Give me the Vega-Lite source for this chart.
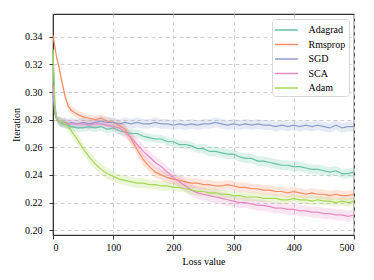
{
"$schema": "https://vega.github.io/schema/vega-lite/v6.json",
"autosize": {"type": "none"},
"width": 301, "height": 221,
"padding": {"left": 53, "top": 14, "right": 20, "bottom": 45},
"background": "white",
"config": {
  "font": "Liberation Serif",
  "view": {"stroke": "#333", "strokeWidth": 1.2},
  "axis": {"labelFont": "Liberation Serif", "titleFont": "Liberation Serif", "labelFontSize": 10, "titleFontSize": 10, "titleFontWeight": "normal", "labelColor": "#000", "titleColor": "#000", "tickColor": "#333", "domainColor": "#333", "tickSize": 4, "labelPadding": 3, "labelOverlap": false, "gridColor": "#cfcfcf", "gridDash": [4, 3], "gridWidth": 1},
  "legend": {"labelFont": "Liberation Serif", "labelFontSize": 10, "labelColor": "#000", "strokeColor": "#d8d8d8", "fillColor": "white", "cornerRadius": 3, "padding": 3, "symbolType": "M-1.643,0H1.643", "symbolStrokeWidth": 1.5, "symbolSize": 196, "symbolOpacity": 1, "symbolOffset": 3.5, "rowPadding": 1.5, "labelOffset": 14}
},
"data": {"values": [
{"s":"Adagrad","x":0,"y":0.330,"e":0.002},{"s":"Adagrad","x":3,"y":0.292,"e":0.002},{"s":"Adagrad","x":6,"y":0.281,"e":0.002},{"s":"Adagrad","x":10,"y":0.279,"e":0.003},{"s":"Adagrad","x":15,"y":0.277,"e":0.003},{"s":"Adagrad","x":20,"y":0.277,"e":0.003},{"s":"Adagrad","x":25,"y":0.276,"e":0.003},{"s":"Adagrad","x":30,"y":0.275,"e":0.003},{"s":"Adagrad","x":40,"y":0.274,"e":0.003},{"s":"Adagrad","x":50,"y":0.274,"e":0.003},{"s":"Adagrad","x":60,"y":0.275,"e":0.003},{"s":"Adagrad","x":70,"y":0.274,"e":0.003},{"s":"Adagrad","x":80,"y":0.275,"e":0.003},{"s":"Adagrad","x":90,"y":0.273,"e":0.003},{"s":"Adagrad","x":100,"y":0.274,"e":0.003},{"s":"Adagrad","x":110,"y":0.272,"e":0.003},{"s":"Adagrad","x":120,"y":0.271,"e":0.003},{"s":"Adagrad","x":130,"y":0.270,"e":0.003},{"s":"Adagrad","x":140,"y":0.270,"e":0.003},{"s":"Adagrad","x":150,"y":0.268,"e":0.003},{"s":"Adagrad","x":160,"y":0.267,"e":0.003},{"s":"Adagrad","x":170,"y":0.266,"e":0.003},{"s":"Adagrad","x":180,"y":0.266,"e":0.003},{"s":"Adagrad","x":190,"y":0.264,"e":0.003},{"s":"Adagrad","x":200,"y":0.264,"e":0.003},{"s":"Adagrad","x":210,"y":0.262,"e":0.003},{"s":"Adagrad","x":220,"y":0.262,"e":0.003},{"s":"Adagrad","x":230,"y":0.261,"e":0.003},{"s":"Adagrad","x":240,"y":0.259,"e":0.003},{"s":"Adagrad","x":250,"y":0.259,"e":0.0035},{"s":"Adagrad","x":260,"y":0.257,"e":0.0035},{"s":"Adagrad","x":270,"y":0.257,"e":0.0035},{"s":"Adagrad","x":280,"y":0.256,"e":0.0035},{"s":"Adagrad","x":290,"y":0.255,"e":0.0035},{"s":"Adagrad","x":300,"y":0.255,"e":0.0035},{"s":"Adagrad","x":310,"y":0.253,"e":0.0035},{"s":"Adagrad","x":320,"y":0.252,"e":0.0035},{"s":"Adagrad","x":330,"y":0.252,"e":0.0035},{"s":"Adagrad","x":340,"y":0.250,"e":0.0035},{"s":"Adagrad","x":350,"y":0.250,"e":0.0035},{"s":"Adagrad","x":360,"y":0.249,"e":0.0035},{"s":"Adagrad","x":370,"y":0.248,"e":0.0035},{"s":"Adagrad","x":380,"y":0.247,"e":0.0035},{"s":"Adagrad","x":390,"y":0.247,"e":0.0035},{"s":"Adagrad","x":400,"y":0.246,"e":0.0035},{"s":"Adagrad","x":410,"y":0.246,"e":0.0035},{"s":"Adagrad","x":420,"y":0.245,"e":0.0035},{"s":"Adagrad","x":430,"y":0.244,"e":0.0035},{"s":"Adagrad","x":440,"y":0.244,"e":0.0035},{"s":"Adagrad","x":450,"y":0.243,"e":0.0035},{"s":"Adagrad","x":460,"y":0.242,"e":0.0035},{"s":"Adagrad","x":470,"y":0.243,"e":0.0035},{"s":"Adagrad","x":480,"y":0.241,"e":0.0035},{"s":"Adagrad","x":490,"y":0.241,"e":0.0035},{"s":"Adagrad","x":500,"y":0.242,"e":0.0035},
{"s":"Rmsprop","x":0,"y":0.341,"e":0.002},{"s":"Rmsprop","x":3,"y":0.333,"e":0.002},{"s":"Rmsprop","x":6,"y":0.325,"e":0.002},{"s":"Rmsprop","x":10,"y":0.318,"e":0.003},{"s":"Rmsprop","x":15,"y":0.307,"e":0.003},{"s":"Rmsprop","x":20,"y":0.297,"e":0.003},{"s":"Rmsprop","x":25,"y":0.290,"e":0.003},{"s":"Rmsprop","x":30,"y":0.287,"e":0.003},{"s":"Rmsprop","x":40,"y":0.284,"e":0.003},{"s":"Rmsprop","x":50,"y":0.282,"e":0.003},{"s":"Rmsprop","x":60,"y":0.281,"e":0.003},{"s":"Rmsprop","x":70,"y":0.280,"e":0.003},{"s":"Rmsprop","x":80,"y":0.281,"e":0.003},{"s":"Rmsprop","x":90,"y":0.279,"e":0.003},{"s":"Rmsprop","x":100,"y":0.278,"e":0.003},{"s":"Rmsprop","x":110,"y":0.276,"e":0.003},{"s":"Rmsprop","x":120,"y":0.273,"e":0.004},{"s":"Rmsprop","x":130,"y":0.266,"e":0.004},{"s":"Rmsprop","x":140,"y":0.258,"e":0.004},{"s":"Rmsprop","x":150,"y":0.251,"e":0.004},{"s":"Rmsprop","x":160,"y":0.246,"e":0.004},{"s":"Rmsprop","x":170,"y":0.242,"e":0.004},{"s":"Rmsprop","x":180,"y":0.240,"e":0.004},{"s":"Rmsprop","x":190,"y":0.238,"e":0.004},{"s":"Rmsprop","x":200,"y":0.237,"e":0.0035},{"s":"Rmsprop","x":210,"y":0.236,"e":0.0035},{"s":"Rmsprop","x":220,"y":0.235,"e":0.0035},{"s":"Rmsprop","x":230,"y":0.234,"e":0.0035},{"s":"Rmsprop","x":240,"y":0.234,"e":0.0035},{"s":"Rmsprop","x":250,"y":0.233,"e":0.0035},{"s":"Rmsprop","x":260,"y":0.233,"e":0.0035},{"s":"Rmsprop","x":270,"y":0.232,"e":0.0035},{"s":"Rmsprop","x":280,"y":0.232,"e":0.0035},{"s":"Rmsprop","x":290,"y":0.233,"e":0.0035},{"s":"Rmsprop","x":300,"y":0.232,"e":0.0035},{"s":"Rmsprop","x":310,"y":0.231,"e":0.0035},{"s":"Rmsprop","x":320,"y":0.231,"e":0.0035},{"s":"Rmsprop","x":330,"y":0.230,"e":0.0035},{"s":"Rmsprop","x":340,"y":0.230,"e":0.0035},{"s":"Rmsprop","x":350,"y":0.229,"e":0.0035},{"s":"Rmsprop","x":360,"y":0.229,"e":0.0035},{"s":"Rmsprop","x":370,"y":0.228,"e":0.0035},{"s":"Rmsprop","x":380,"y":0.228,"e":0.0035},{"s":"Rmsprop","x":390,"y":0.227,"e":0.0035},{"s":"Rmsprop","x":400,"y":0.228,"e":0.0035},{"s":"Rmsprop","x":410,"y":0.227,"e":0.0035},{"s":"Rmsprop","x":420,"y":0.226,"e":0.0035},{"s":"Rmsprop","x":430,"y":0.227,"e":0.0035},{"s":"Rmsprop","x":440,"y":0.226,"e":0.0035},{"s":"Rmsprop","x":450,"y":0.226,"e":0.0035},{"s":"Rmsprop","x":460,"y":0.225,"e":0.0035},{"s":"Rmsprop","x":470,"y":0.226,"e":0.0035},{"s":"Rmsprop","x":480,"y":0.225,"e":0.0035},{"s":"Rmsprop","x":490,"y":0.225,"e":0.0035},{"s":"Rmsprop","x":500,"y":0.226,"e":0.0035},
{"s":"SGD","x":0,"y":0.300,"e":0.002},{"s":"SGD","x":3,"y":0.284,"e":0.002},{"s":"SGD","x":6,"y":0.280,"e":0.002},{"s":"SGD","x":10,"y":0.279,"e":0.0035},{"s":"SGD","x":15,"y":0.278,"e":0.0035},{"s":"SGD","x":20,"y":0.278,"e":0.0035},{"s":"SGD","x":25,"y":0.277,"e":0.0035},{"s":"SGD","x":30,"y":0.278,"e":0.0035},{"s":"SGD","x":40,"y":0.277,"e":0.0035},{"s":"SGD","x":50,"y":0.278,"e":0.0035},{"s":"SGD","x":60,"y":0.277,"e":0.0035},{"s":"SGD","x":70,"y":0.278,"e":0.0035},{"s":"SGD","x":80,"y":0.279,"e":0.0035},{"s":"SGD","x":90,"y":0.278,"e":0.0035},{"s":"SGD","x":100,"y":0.278,"e":0.0035},{"s":"SGD","x":110,"y":0.277,"e":0.0035},{"s":"SGD","x":120,"y":0.278,"e":0.0035},{"s":"SGD","x":130,"y":0.277,"e":0.0035},{"s":"SGD","x":140,"y":0.278,"e":0.0035},{"s":"SGD","x":150,"y":0.277,"e":0.0035},{"s":"SGD","x":160,"y":0.277,"e":0.0035},{"s":"SGD","x":170,"y":0.278,"e":0.0035},{"s":"SGD","x":180,"y":0.277,"e":0.0035},{"s":"SGD","x":190,"y":0.277,"e":0.0035},{"s":"SGD","x":200,"y":0.276,"e":0.0035},{"s":"SGD","x":210,"y":0.277,"e":0.0035},{"s":"SGD","x":220,"y":0.276,"e":0.0035},{"s":"SGD","x":230,"y":0.277,"e":0.0035},{"s":"SGD","x":240,"y":0.276,"e":0.0035},{"s":"SGD","x":250,"y":0.277,"e":0.0035},{"s":"SGD","x":260,"y":0.277,"e":0.0035},{"s":"SGD","x":270,"y":0.278,"e":0.0035},{"s":"SGD","x":280,"y":0.277,"e":0.0035},{"s":"SGD","x":290,"y":0.276,"e":0.0035},{"s":"SGD","x":300,"y":0.277,"e":0.0035},{"s":"SGD","x":310,"y":0.276,"e":0.0035},{"s":"SGD","x":320,"y":0.277,"e":0.0035},{"s":"SGD","x":330,"y":0.276,"e":0.0035},{"s":"SGD","x":340,"y":0.277,"e":0.0035},{"s":"SGD","x":350,"y":0.276,"e":0.0035},{"s":"SGD","x":360,"y":0.276,"e":0.0035},{"s":"SGD","x":370,"y":0.275,"e":0.0035},{"s":"SGD","x":380,"y":0.276,"e":0.0035},{"s":"SGD","x":390,"y":0.275,"e":0.0035},{"s":"SGD","x":400,"y":0.276,"e":0.0035},{"s":"SGD","x":410,"y":0.275,"e":0.0035},{"s":"SGD","x":420,"y":0.276,"e":0.0035},{"s":"SGD","x":430,"y":0.275,"e":0.0035},{"s":"SGD","x":440,"y":0.276,"e":0.0035},{"s":"SGD","x":450,"y":0.275,"e":0.0035},{"s":"SGD","x":460,"y":0.274,"e":0.0035},{"s":"SGD","x":470,"y":0.276,"e":0.0035},{"s":"SGD","x":480,"y":0.274,"e":0.0035},{"s":"SGD","x":490,"y":0.275,"e":0.0035},{"s":"SGD","x":500,"y":0.275,"e":0.0035},
{"s":"SCA","x":0,"y":0.305,"e":0.002},{"s":"SCA","x":3,"y":0.287,"e":0.002},{"s":"SCA","x":6,"y":0.281,"e":0.002},{"s":"SCA","x":10,"y":0.279,"e":0.003},{"s":"SCA","x":15,"y":0.278,"e":0.003},{"s":"SCA","x":20,"y":0.278,"e":0.003},{"s":"SCA","x":25,"y":0.277,"e":0.003},{"s":"SCA","x":30,"y":0.277,"e":0.003},{"s":"SCA","x":40,"y":0.277,"e":0.003},{"s":"SCA","x":50,"y":0.277,"e":0.003},{"s":"SCA","x":60,"y":0.276,"e":0.003},{"s":"SCA","x":70,"y":0.277,"e":0.003},{"s":"SCA","x":80,"y":0.277,"e":0.003},{"s":"SCA","x":90,"y":0.276,"e":0.003},{"s":"SCA","x":100,"y":0.275,"e":0.003},{"s":"SCA","x":110,"y":0.274,"e":0.0045},{"s":"SCA","x":120,"y":0.271,"e":0.0045},{"s":"SCA","x":130,"y":0.267,"e":0.0045},{"s":"SCA","x":140,"y":0.262,"e":0.0045},{"s":"SCA","x":150,"y":0.257,"e":0.0045},{"s":"SCA","x":160,"y":0.253,"e":0.0045},{"s":"SCA","x":170,"y":0.249,"e":0.0045},{"s":"SCA","x":180,"y":0.246,"e":0.0045},{"s":"SCA","x":190,"y":0.242,"e":0.0045},{"s":"SCA","x":200,"y":0.238,"e":0.0045},{"s":"SCA","x":210,"y":0.235,"e":0.0045},{"s":"SCA","x":220,"y":0.232,"e":0.0045},{"s":"SCA","x":230,"y":0.229,"e":0.0045},{"s":"SCA","x":240,"y":0.227,"e":0.0045},{"s":"SCA","x":250,"y":0.226,"e":0.0045},{"s":"SCA","x":260,"y":0.225,"e":0.0045},{"s":"SCA","x":270,"y":0.224,"e":0.0045},{"s":"SCA","x":280,"y":0.223,"e":0.0045},{"s":"SCA","x":290,"y":0.222,"e":0.0045},{"s":"SCA","x":300,"y":0.221,"e":0.004},{"s":"SCA","x":310,"y":0.220,"e":0.004},{"s":"SCA","x":320,"y":0.220,"e":0.004},{"s":"SCA","x":330,"y":0.219,"e":0.004},{"s":"SCA","x":340,"y":0.218,"e":0.004},{"s":"SCA","x":350,"y":0.218,"e":0.004},{"s":"SCA","x":360,"y":0.217,"e":0.004},{"s":"SCA","x":370,"y":0.216,"e":0.004},{"s":"SCA","x":380,"y":0.216,"e":0.004},{"s":"SCA","x":390,"y":0.215,"e":0.004},{"s":"SCA","x":400,"y":0.215,"e":0.004},{"s":"SCA","x":410,"y":0.214,"e":0.004},{"s":"SCA","x":420,"y":0.214,"e":0.004},{"s":"SCA","x":430,"y":0.213,"e":0.004},{"s":"SCA","x":440,"y":0.213,"e":0.004},{"s":"SCA","x":450,"y":0.212,"e":0.004},{"s":"SCA","x":460,"y":0.212,"e":0.004},{"s":"SCA","x":470,"y":0.211,"e":0.004},{"s":"SCA","x":480,"y":0.211,"e":0.004},{"s":"SCA","x":490,"y":0.210,"e":0.004},{"s":"SCA","x":500,"y":0.211,"e":0.004},
{"s":"Adam","x":0,"y":0.331,"e":0.002},{"s":"Adam","x":3,"y":0.290,"e":0.002},{"s":"Adam","x":6,"y":0.280,"e":0.002},{"s":"Adam","x":10,"y":0.279,"e":0.003},{"s":"Adam","x":15,"y":0.278,"e":0.003},{"s":"Adam","x":20,"y":0.277,"e":0.003},{"s":"Adam","x":25,"y":0.275,"e":0.0035},{"s":"Adam","x":30,"y":0.272,"e":0.0035},{"s":"Adam","x":40,"y":0.266,"e":0.004},{"s":"Adam","x":50,"y":0.259,"e":0.004},{"s":"Adam","x":60,"y":0.253,"e":0.004},{"s":"Adam","x":70,"y":0.248,"e":0.004},{"s":"Adam","x":80,"y":0.244,"e":0.004},{"s":"Adam","x":90,"y":0.241,"e":0.004},{"s":"Adam","x":100,"y":0.239,"e":0.0035},{"s":"Adam","x":110,"y":0.237,"e":0.0035},{"s":"Adam","x":120,"y":0.236,"e":0.0035},{"s":"Adam","x":130,"y":0.235,"e":0.0035},{"s":"Adam","x":140,"y":0.234,"e":0.0035},{"s":"Adam","x":150,"y":0.234,"e":0.0035},{"s":"Adam","x":160,"y":0.233,"e":0.0035},{"s":"Adam","x":170,"y":0.233,"e":0.0035},{"s":"Adam","x":180,"y":0.232,"e":0.0035},{"s":"Adam","x":190,"y":0.232,"e":0.0035},{"s":"Adam","x":200,"y":0.231,"e":0.003},{"s":"Adam","x":210,"y":0.231,"e":0.003},{"s":"Adam","x":220,"y":0.230,"e":0.003},{"s":"Adam","x":230,"y":0.229,"e":0.003},{"s":"Adam","x":240,"y":0.228,"e":0.003},{"s":"Adam","x":250,"y":0.228,"e":0.003},{"s":"Adam","x":260,"y":0.227,"e":0.003},{"s":"Adam","x":270,"y":0.227,"e":0.003},{"s":"Adam","x":280,"y":0.226,"e":0.003},{"s":"Adam","x":290,"y":0.226,"e":0.003},{"s":"Adam","x":300,"y":0.225,"e":0.003},{"s":"Adam","x":310,"y":0.225,"e":0.003},{"s":"Adam","x":320,"y":0.224,"e":0.003},{"s":"Adam","x":330,"y":0.224,"e":0.003},{"s":"Adam","x":340,"y":0.224,"e":0.003},{"s":"Adam","x":350,"y":0.223,"e":0.003},{"s":"Adam","x":360,"y":0.223,"e":0.003},{"s":"Adam","x":370,"y":0.223,"e":0.003},{"s":"Adam","x":380,"y":0.222,"e":0.003},{"s":"Adam","x":390,"y":0.222,"e":0.003},{"s":"Adam","x":400,"y":0.223,"e":0.003},{"s":"Adam","x":410,"y":0.222,"e":0.003},{"s":"Adam","x":420,"y":0.222,"e":0.003},{"s":"Adam","x":430,"y":0.221,"e":0.003},{"s":"Adam","x":440,"y":0.222,"e":0.003},{"s":"Adam","x":450,"y":0.221,"e":0.003},{"s":"Adam","x":460,"y":0.221,"e":0.003},{"s":"Adam","x":470,"y":0.220,"e":0.003},{"s":"Adam","x":480,"y":0.221,"e":0.003},{"s":"Adam","x":490,"y":0.220,"e":0.003},{"s":"Adam","x":500,"y":0.221,"e":0.003}
]},
"encoding": {
  "x": {"field": "x", "type": "quantitative", "scale": {"domain": [0, 500], "nice": false, "zero": false}, "axis": {"values": [0, 100, 200, 300, 400, 500], "title": "Loss value", "grid": true, "titlePadding": 4}},
  "y": {"field": "y", "type": "quantitative", "scale": {"domain": [0.1965, 0.3565], "nice": false, "zero": false}, "axis": {"values": [0.2, 0.22, 0.24, 0.26, 0.28, 0.3, 0.32, 0.34], "format": ".2f", "title": "Iteration", "grid": true, "labelPadding": 7, "titlePadding": 3}},
  "color": {"field": "s", "type": "nominal", "scale": {"domain": ["Adagrad", "Rmsprop", "SGD", "SCA", "Adam"], "range": ["#66c2a5", "#fc8d62", "#8da0cb", "#e78ac3", "#a6d854"]}, "legend": {"title": null, "orient": "top-right", "offset": 5}}
},
"layer": [
  {"mark": {"type": "errorband", "band": {"opacity": 0.22}, "borders": false},
   "encoding": {"yError": {"field": "e"}}},
  {"mark": {"type": "line", "strokeWidth": 1.2}}
]
}
